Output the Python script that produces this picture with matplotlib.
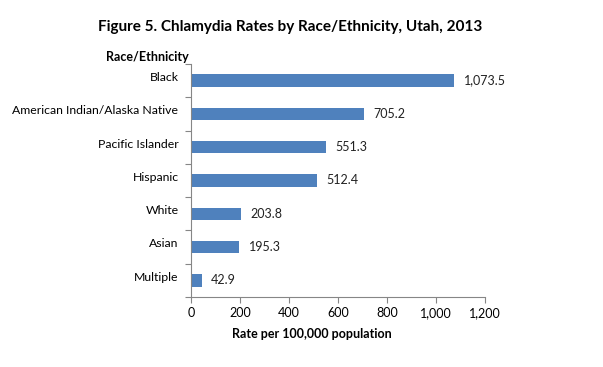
import matplotlib
matplotlib.use("Agg")
import matplotlib.pyplot as plt
import matplotlib.transforms as mtransforms
import numpy as np

# -----------------------------------------------------------------------
# Data
# -----------------------------------------------------------------------
groups = [
    "Black",
    "American Indian/Alaska Native",
    "Pacific Islander",
    "Hispanic",
    "White",
    "Asian",
    "Multiple",
]
rates = [1073.5, 705.2, 551.3, 512.4, 203.8, 195.3, 42.9]
x_ticks = [0, 200, 400, 600, 800, 1000, 1200]

BAR_COLOR = "#4F81BD"
SPINE_COLOR = "#868686"

plt.rcParams["font.family"] = ["Lato", "DejaVu Sans"]

fig = plt.figure(figsize=(6.03, 3.67), dpi=100)
ax = fig.add_axes([191 / 603, 1 - 297 / 367, 294 / 603, 233 / 367])

n = len(groups)
pos = np.arange(n)
ax.barh(pos, rates, height=0.37, color=BAR_COLOR)

# value labels at bar ends
for y, v in zip(pos, rates):
    ax.annotate(f"{v:,.1f}", xy=(v, y), xytext=(7, 0),
                textcoords="offset points", va="center", ha="left",
                fontsize=9, color="#222222")

ax.set_xlim(0, 1200)
ax.set_ylim(n - 0.5, -0.5)
ax.set_xticks(x_ticks)
ax.set_xticklabels([f"{t:,}" for t in x_ticks], fontsize=9)

# Excel style: tick marks on band boundaries, labels centred (a bit high)
ax.set_yticks(np.arange(n + 1) - 0.5)
ax.set_yticklabels([])
ax.set_yticks(pos, minor=True)
ax.set_yticklabels(groups, minor=True, fontsize=8.8)
ax.tick_params(axis="y", which="minor", length=0, pad=9)
ax.tick_params(axis="y", which="major", length=4, color=SPINE_COLOR,
               direction="out")
ax.tick_params(axis="x", length=4, color=SPINE_COLOR, direction="out",
               pad=3)
shift = mtransforms.ScaledTranslation(0, 3 / 72, fig.dpi_scale_trans)
for lbl in ax.get_yticklabels(minor=True):
    lbl.set_transform(lbl.get_transform() + shift)

for side in ("top", "right"):
    ax.spines[side].set_visible(False)
for side in ("left", "bottom"):
    ax.spines[side].set_color(SPINE_COLOR)
    ax.spines[side].set_linewidth(0.8)

fig.text(290 / 603, 1 - 27 / 367,
         "Figure 5. Chlamydia Rates by Race/Ethnicity, Utah, 2013",
         ha="center", va="center", fontsize=11, fontweight="bold")
fig.text(189 / 603, 1 - 57 / 367, "Race/Ethnicity", ha="right",
         va="center", fontsize=9, fontweight="bold")
fig.text(312 / 603, 1 - 334 / 367, "Rate per 100,000 population",
         ha="center", va="center", fontsize=9, fontweight="bold")

fig.savefig("out.png", dpi=100, facecolor="white")
